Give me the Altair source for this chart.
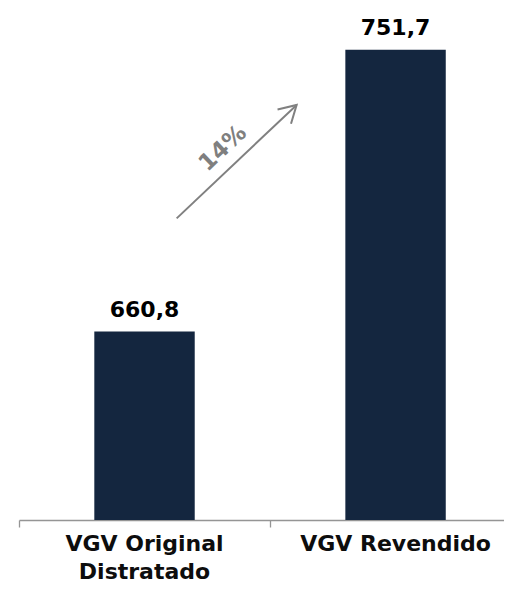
import altair as alt
import pandas as pd

# ---- data ----
categories = ["VGV Original\nDistratado", "VGV Revendido"]
values = [660.8, 751.7]
value_labels = ["660,8", "751,7"]
positions = [0.5, 1.5]          # centre of each category slot on the x axis

growth_label = ["14%"]
# annotation (arrow) in data coordinates: x in category slots, y in value units
arrow_x = [0.628]
arrow_y = [697.3]
arrow_x2 = [1.106]
arrow_y2 = [733.9]
growth_x = [0.812]
growth_y = [719.9]

df = pd.DataFrame({"cat": categories, "value": values, "label": value_labels, "pos": positions})
arrow_df = pd.DataFrame({"ax": arrow_x, "ay": arrow_y, "ax2": arrow_x2, "ay2": arrow_y2})
growth_df = pd.DataFrame({"gx": growth_x, "gy": growth_y, "txt": growth_label})

FONT = "DejaVu Sans"
NAVY = "#14263f"
GRAY = "#808080"

xscale = alt.Scale(domain=[0, 1.932], nice=False, zero=False)
yscale = alt.Scale(domain=[600, 760], nice=False, zero=False)
xaxis = alt.Axis(values=[0, 1], labels=False, title=None, grid=False, tickSize=7,
                 domainColor="#959595", tickColor="#959595", domainWidth=1.3, tickWidth=1.3)

base = alt.Chart(df).transform_calculate(x0="datum.pos - 0.2", x1="datum.pos + 0.2")

bars = base.mark_bar(color=NAVY).encode(
    x=alt.X("x0:Q", scale=xscale, axis=xaxis),
    x2="x1:Q",
    y=alt.Y("value:Q", scale=yscale, axis=None),
    y2=alt.datum(600),
)

vlabels = base.mark_text(dy=-15, baseline="alphabetic", align="center", fontSize=22,
                         fontWeight="bold", font=FONT, color="#000000").encode(
    x=alt.X("pos:Q", scale=xscale, axis=xaxis),
    y=alt.Y("value:Q", scale=yscale, axis=None),
    text="label:N",
)

catlabels = base.mark_text(baseline="alphabetic", align="center", fontSize=22, fontWeight="bold",
                           font=FONT, color="#0d0d0d", lineBreak="\n", lineHeight=28).encode(
    x=alt.X("pos:Q", scale=xscale, axis=xaxis),
    y=alt.value(527),
    text="cat:N",
)

shaft = alt.Chart(arrow_df).mark_rule(color=GRAY, strokeWidth=2).encode(
    x=alt.X("ax:Q", scale=xscale, axis=xaxis),
    y=alt.Y("ay:Q", scale=yscale, axis=None),
    x2="ax2:Q",
    y2="ay2:Q",
)

head = alt.Chart(arrow_df).mark_point(shape="M-0.577,1L0,0L0.577,1", filled=False, stroke=GRAY,
                                      strokeWidth=2, size=1156, angle=46.7, opacity=1).encode(
    x=alt.X("ax2:Q", scale=xscale, axis=xaxis),
    y=alt.Y("ay2:Q", scale=yscale, axis=None),
)

growth = alt.Chart(growth_df).mark_text(angle=316.7, fontSize=23, fontWeight="bold", font=FONT,
                                        color="#7f7f7f", align="center", baseline="middle").encode(
    x=alt.X("gx:Q", scale=xscale, axis=xaxis),
    y=alt.Y("gy:Q", scale=yscale, axis=None),
    text="txt:N",
)

chart = alt.layer(bars, vlabels, catlabels, shaft, head, growth).properties(
    width=485,
    height=496,
    background="white",
    autosize=alt.AutoSizeParams(type="none"),
    padding={"left": 11, "top": 16, "right": 0, "bottom": 63},
).configure_view(stroke=None)

chart.save("out.html", embed_options={"renderer": "svg", "actions": False})
